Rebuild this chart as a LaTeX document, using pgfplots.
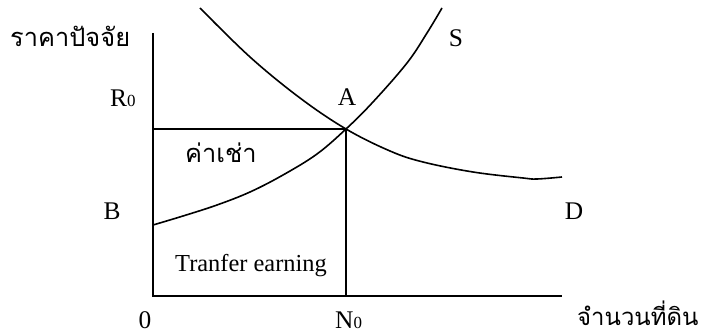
\documentclass[border=0pt]{standalone}
\usepackage{fontspec}
\setmainfont{Liberation Serif}
\newfontfamily\thaifont[Script=Thai]{Loma}
\usepackage{pgfplots}
\pgfplotsset{compat=1.18}
\newcommand{\sub}[1]{{\fontsize{17}{17}\selectfont #1}}
\tikzset{
  lbl/.style={font=\fontsize{25.5}{27}\selectfont, inner sep=0pt},
  th/.style={font=\fontsize{25.5}{27}\thaifont, inner sep=0pt},
}

\begin{document}
\begin{tikzpicture}
\useasboundingbox (0,0) rectangle (714bp,334bp);
\begin{axis}[
  scale only axis, width=714bp, height=334bp,
  xmin=-153, xmax=561, ymin=-38, ymax=296,
  hide axis, clip=false,
]
% axes
\addplot[black, line width=1.6bp] coordinates {(0,263) (0,0) (409,0)};
% rent and equilibrium guides
\addplot[black, line width=1.6bp] coordinates {(0,167) (193,167) (193,0)};
% supply S
\addplot[black, line width=1.6bp, smooth, tension=0.6] coordinates {(0,71) (30,80) (64,91) (97,104) (130,121) (164,142) (193,167) (220,194) (254,233) (274,263) (289,288)};
% demand D
\addplot[black, line width=1.6bp, smooth, tension=0.6] coordinates {(47,288) (97,239) (147,198) (193,167) (237,145) (270,134) (320,124) (370,118) (384,117) (409,119)};

\node[th, anchor=base west] at (axis cs:-143,249) {ราคาปัจจัย};
\node[lbl, anchor=base west] at (axis cs:-43,189) {R\sub{0}};
\node[lbl, anchor=base] at (axis cs:194,190) {A};
\node[lbl, anchor=base] at (axis cs:303,249) {S};
\node[th, anchor=base west] at (axis cs:32,133) {ค่าเช่า};
\node[lbl, anchor=base] at (axis cs:-41,76) {B};
\node[lbl, anchor=base] at (axis cs:421,76) {D};
\node[lbl, font=\fontsize{24.5}{26}\selectfont, anchor=base] at (axis cs:98,24) {Tranfer earning};
\node[lbl, anchor=base] at (axis cs:-8,-32) {0};
\node[lbl, anchor=base west] at (axis cs:182,-32) {N\sub{0}};
\node[th, font=\fontsize{24}{26}\thaifont, anchor=base west] at (axis cs:424,-29) {จำนวนที่ดิน};
\end{axis}
\end{tikzpicture}
\end{document}
